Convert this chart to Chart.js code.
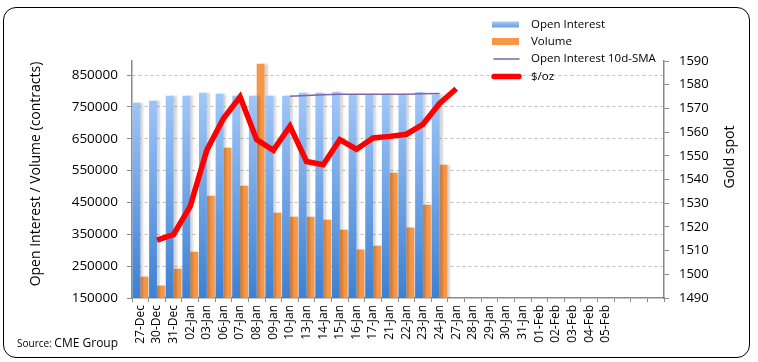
<!DOCTYPE html>
<html lang="en">
<head>
<meta charset="UTF-8">
<title>Open Interest / Volume x Gold spot</title>
<script src="https://cdn.jsdelivr.net/npm/chart.js"></script>
<style>
    body { margin: 0; background: #fff; }
    #wrap { position: relative; width: 758px; height: 362px; }
    #frame { position: absolute; left: 3px; top: 7px; width: 745px; height: 349px; border: 1.5px solid #000; border-radius: 13px; pointer-events: none; }
    #fonte { position: absolute; left: 17px; top: 334px; font-family: 'Open Sans', sans-serif; font-size: 10px; color: #000; }
    #fonte span { font-size: 12px; }
</style>
</head>
<body>
<div id="wrap">
    <canvas id="grafico" width="758" height="362"></canvas>
    <div id="frame"></div>
    <div id="fonte">Source: <span>CME Group</span></div>
</div>
<script>
    // datas do eixo x (as 3 ultimas ficam sem rotulo)
    var dias = ['27-Dec', '30-Dec', '31-Dec', '02-Jan', '03-Jan', '06-Jan', '07-Jan', '08-Jan', '09-Jan', '10-Jan',
        '13-Jan', '14-Jan', '15-Jan', '16-Jan', '17-Jan', '21-Jan', '22-Jan', '23-Jan', '24-Jan', '27-Jan',
        '28-Jan', '29-Jan', '30-Jan', '31-Jan', '01-Feb', '02-Feb', '03-Feb', '04-Feb', '05-Feb', '', '', '']

    var openInterest = [763000, 769000, 785000, 785000, 794000, 791000, 785000, 785000, 785000, 785000,
        794000, 794000, 797000, 789000, 789000, 789000, 789000, 797000, 789000]
    var volume = [217000, 189000, 242000, 295000, 471000, 622000, 502000, 885000, 418000, 405000,
        405000, 396000, 364000, 302000, 314000, 543000, 371000, 443000, 568000]
    var oiSma = [null, null, null, null, null, null, null, null, null, 783000,
        786000, 788000, 790000, 790000, 790000, 790000, 790000, 791000, 792000]
    var ouro = [null, 1514.4, 1516.8, 1528.7, 1552.4, 1565.7, 1574.9, 1556.8, 1552.3, 1562.5,
        1547.6, 1546.2, 1556.8, 1552.8, 1557.5, 1558.2, 1559.1, 1563.3, 1572.1, 1578.3]

    var ticksEsq = [150000, 250000, 350000, 450000, 550000, 650000, 750000, 850000]
    var tituloEsq = 'Open Interest / Volume (contracts)'
    var tituloDir = 'Gold spot'

    var fonte = "'Open Sans', sans-serif"
    Chart.defaults.font.family = fonte
    Chart.defaults.color = '#000'

    var gradCache = null
    function azul(ctx) {
        var area = ctx.chart.chartArea
        if (!area) return '#6fa3e6'
        if (!gradCache) {
            gradCache = ctx.chart.ctx.createLinearGradient(0, area.bottom, 0, area.top + 30)
            gradCache.addColorStop(0, '#3d80d2')
            gradCache.addColorStop(1, '#a2c8fa')
        }
        return gradCache
    }

    // sombra leve nas barras
    const sombra = {
        id: 'sombra',
        beforeDatasetDraw(chart, args) {
            if (args.meta.type !== 'bar') return
            const c = chart.ctx
            c.save()
            c.shadowColor = 'rgba(0,0,0,0.16)'
            c.shadowOffsetX = 3
            c.shadowBlur = 2
        },
        afterDatasetDraw(chart, args) {
            if (args.meta.type !== 'bar') return
            chart.ctx.restore()
        }
    }

    // titulos dos eixos e legenda
    const textos = {
        id: 'textos',
        afterDraw(chart) {
            const c = chart.ctx
            c.save()
            c.fillStyle = '#000'
            c.textAlign = 'center'
            c.textBaseline = 'middle'
            c.font = '14px ' + fonte
            c.save()
            c.translate(36, 174)
            c.rotate(-Math.PI / 2)
            c.fillText(tituloEsq, 0, 0)
            c.restore()
            c.save()
            c.translate(730, 157)
            c.rotate(-Math.PI / 2)
            c.fillText(tituloDir, 0, 0)
            c.restore()

            // legenda
            const ds = chart.data.datasets
            const lx = 492, tx = 531
            const ys = [24.5, 41.5, 59, 76.5]
            c.textAlign = 'left'
            c.font = '11.5px ' + fonte
            for (let i = 0; i < ds.length; i++) {
                const y = ys[i]
                if (i === 0) {
                    const g = c.createLinearGradient(0, y + 3, 0, y - 3)
                    g.addColorStop(0, '#6a9fe2')
                    g.addColorStop(1, '#a6c9f6')
                    c.fillStyle = g
                    c.fillRect(lx, y - 3, 27, 6)
                } else if (i === 1) {
                    c.fillStyle = '#f79646'
                    c.fillRect(lx, y - 3.5, 27, 7)
                } else {
                    c.strokeStyle = ds[i].borderColor
                    c.lineWidth = ds[i].borderWidth
                    c.lineCap = 'round'
                    c.beginPath()
                    c.moveTo(lx + 2, y)
                    c.lineTo(lx + 27, y)
                    c.stroke()
                }
                c.fillStyle = '#000'
                c.fillText(ds[i].label, tx, y)
            }
            c.restore()
        }
    }

    const config = {
        type: 'bar',
        data: {
            labels: dias,
            datasets: [{
                label: 'Open Interest',
                data: openInterest,
                backgroundColor: azul,
                yAxisID: 'y',
                order: 2,
                categoryPercentage: 0.94,
                barPercentage: 1
            }, {
                label: 'Volume',
                data: volume,
                backgroundColor: '#f79646',
                yAxisID: 'y',
                order: 2,
                categoryPercentage: 0.94,
                barPercentage: 1
            }, {
                type: 'line',
                label: 'Open Interest 10d-SMA',
                data: oiSma,
                borderColor: '#8064a2',
                borderWidth: 1.5,
                pointRadius: 0,
                yAxisID: 'y',
                order: 1
            }, {
                type: 'line',
                label: '$/oz',
                data: ouro,
                borderColor: '#ff0000',
                borderWidth: 5.5,
                pointRadius: 0,
                borderJoinStyle: 'miter',
                yAxisID: 'y1',
                order: 0
            }]
        },
        options: {
            responsive: false,
            animation: false,
            layout: { padding: { top: 61, left: 0, right: 0, bottom: 0 } },
            plugins: {
                legend: { display: false },
                tooltip: { enabled: false }
            },
            scales: {
                x: {
                    grid: { display: true, drawOnChartArea: false, drawTicks: true, tickLength: 4, color: '#8a8a8a', offset: true },
                    border: { color: '#8a8a8a', width: 1.5 },
                    ticks: { font: { size: 12 }, maxRotation: 90, minRotation: 90, autoSkip: false, padding: 3 },
                    afterFit: function (s) { s.height = 64 }
                },
                y: {
                    position: 'left',
                    min: 150000,
                    max: 894000,
                    afterBuildTicks: function (s) { s.ticks = ticksEsq.map(v => ({ value: v })) },
                    grid: {
                        color: function (c) { return c.tick && c.tick.value === 150000 ? 'rgba(0,0,0,0)' : '#bdbdbd' },
                        tickColor: '#8a8a8a',
                        tickLength: 5,
                        lineWidth: 1
                    },
                    border: { color: '#8a8a8a', width: 1.5, dash: [3, 3] },
                    ticks: { font: { size: 13.5 }, padding: 9, callback: function (v) { return String(v) } },
                    afterFit: function (s) { s.width = 132 }
                },
                y1: {
                    position: 'right',
                    min: 1490,
                    max: 1590,
                    ticks: { stepSize: 10, font: { size: 13 }, padding: 10, callback: function (v) { return String(v) } },
                    grid: { drawOnChartArea: false, tickLength: 5, color: '#8a8a8a' },
                    border: { color: '#8a8a8a', width: 1.5 },
                    afterFit: function (s) { s.width = 94 }
                }
            }
        },
        plugins: [sombra, textos]
    }

    let grafico = new Chart(document.getElementById('grafico'), config)
</script>
</body>
</html>
